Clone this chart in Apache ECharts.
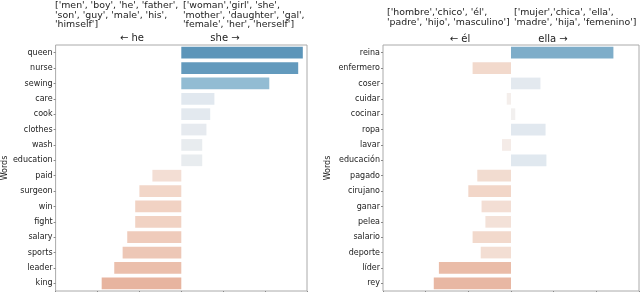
<!DOCTYPE html>
<html>
<head>
<meta charset="utf-8"/>
<script src="https://cdn.jsdelivr.net/npm/echarts@6/dist/echarts.min.js"></script>
</head>
<body style="margin:0">
<div id="main" style="width:640px;height:292px"></div>
<script>
// english panel
var wordsEn = ['queen', 'nurse', 'sewing', 'care', 'cook', 'clothes', 'wash', 'education',
    'paid', 'surgeon', 'win', 'fight', 'salary', 'sports', 'leader', 'king'];
var scoresEn = [2.9, 2.79, 2.1, 0.79, 0.69, 0.6, 0.5, 0.5,
    -0.69, -1.0, -1.1, -1.1, -1.29, -1.4, -1.6, -1.9];
var heListEn = ["['men', 'boy', 'he', 'father',", "'son', 'guy', 'male', 'his',", "'himself']"];
var sheListEn = ["['woman','girl', 'she',", "'mother', 'daughter', 'gal',", "'female', 'her', 'herself']"];

// spanish panel
var wordsEs = ['reina', 'enfermero', 'coser', 'cuidar', 'cocinar', 'ropa', 'lavar', 'educación',
    'pagado', 'cirujano', 'ganar', 'pelea', 'salario', 'deporte', 'líder', 'rey'];
var scoresEs = [2.4, -0.9, 0.69, -0.1, 0.1, 0.81, -0.21, 0.83,
    -0.79, -1.0, -0.69, -0.6, -0.9, -0.71, -1.69, -1.81];
var heListEs = ["['hombre','chico', 'él',", "'padre', 'hijo', 'masculino']"];
var sheListEs = ["['mujer','chica', 'ella',", "'madre', 'hija', 'femenino']"];

var xTicks = [-3, 3];

var font = 'DejaVu Sans';
var dom = document.getElementById('main');
var chart = echarts.init(dom, null, {renderer: 'canvas'});

// word-list header text
function txt(x, y, lines) {
    return {
        type: 'text', left: x, top: y,
        style: {text: lines.join('\n'), font: '9.4px "DejaVu Sans"', fill: '#222', lineHeight: 9.4}
    };
}
// direction label, centered on x,y
function arrow(x, y, s) {
    return {
        type: 'text', x: x, y: y,
        style: {text: s, font: '10px "DejaVu Sans"', fill: '#222', textAlign: 'center', textVerticalAlign: 'middle'}
    };
}

function xAx(idx) {
    return {
        gridIndex: idx, type: 'value', min: xTicks[0], max: xTicks[1], interval: 1,
        axisLine: {show: false}, splitLine: {show: false},
        axisTick: {show: true, length: 3, lineStyle: {color: '#888'}},
        axisLabel: {show: false}
    };
}

function yAx(idx, words) {
    return {
        gridIndex: idx, type: 'category', data: words, inverse: true,
        name: 'Words', nameLocation: 'middle', nameGap: idx === 0 ? 44 : 51,
        nameTextStyle: {fontFamily: font, fontSize: 8, color: '#222'},
        axisLine: {show: false, onZero: false},
        axisTick: {show: true, length: 2, alignWithLabel: true, lineStyle: {color: '#888'}},
        axisLabel: {fontFamily: font, fontSize: 8, color: '#222', margin: 3}
    };
}

var option = {
    animation: false,
    grid: [
        {left: 55, top: 45, width: 252, bottom: 1, show: true, borderColor: '#aaa', borderWidth: 1},
        {left: 383, top: 45, width: 256, bottom: 1, show: true, borderColor: '#aaa', borderWidth: 1}
    ],
    xAxis: [xAx(0), xAx(1)],
    yAxis: [yAx(0, wordsEn), yAx(1, wordsEs)],
    visualMap: {
        show: false, type: 'continuous', min: -3, max: 3, dimension: 0, seriesIndex: [0, 1],
        inRange: {color: ['#d4896a', '#e6b09a', '#f2d6c8', '#f4f1ef', '#dce6ef', '#99c1d6', '#5590b6']}
    },
    series: [
        {type: 'bar', xAxisIndex: 0, yAxisIndex: 0, barCategoryGap: '24%', data: scoresEn},
        {type: 'bar', xAxisIndex: 1, yAxisIndex: 1, barCategoryGap: '24%', data: scoresEs}
    ],
    graphic: [
        txt(55, 1, heListEn),
        txt(183, 1, sheListEn),
        arrow(132, 38, '← he'),
        arrow(225, 38, 'she →'),
        txt(387, 8, heListEs),
        txt(514, 8, sheListEs),
        arrow(460, 39, '← él'),
        arrow(553, 39, 'ella →')
    ]
};

chart.setOption(option);
</script>
</body>
</html>
